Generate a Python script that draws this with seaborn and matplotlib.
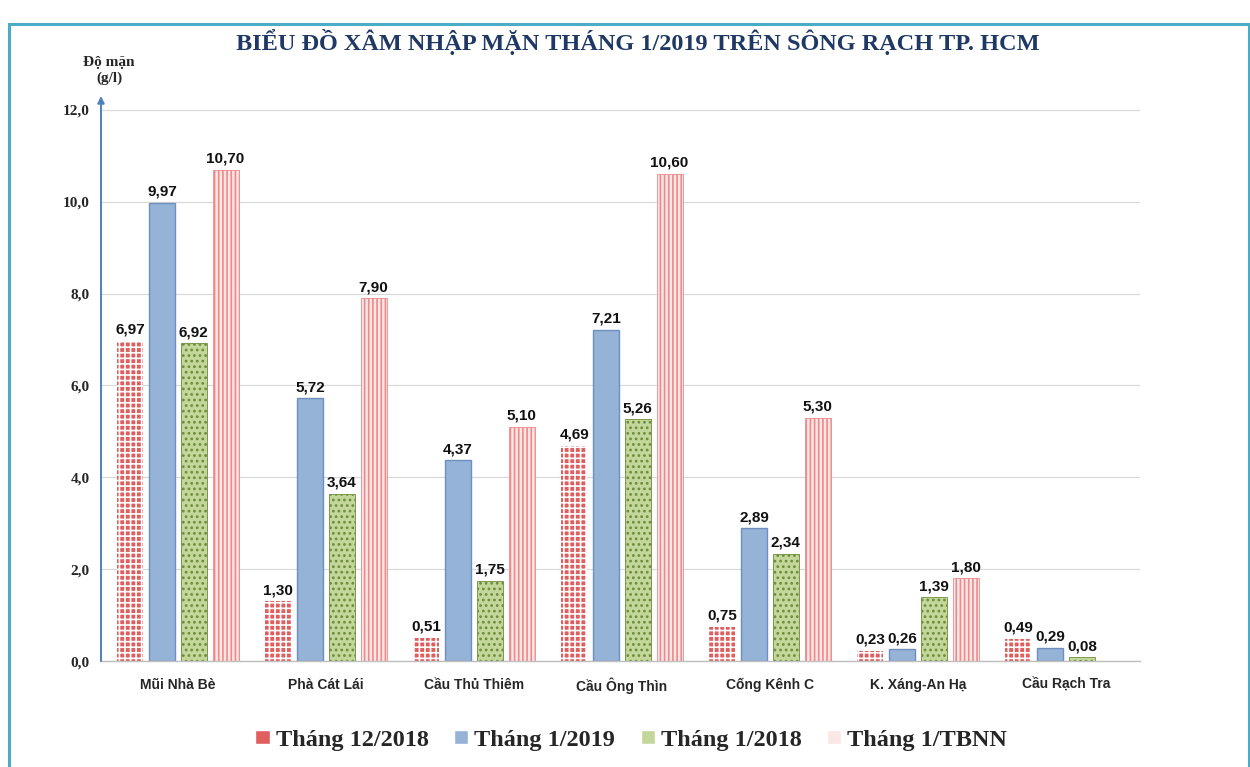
import numpy as np
import pandas as pd
import matplotlib.pyplot as plt
import seaborn as sns
from matplotlib.patches import Rectangle

# data
stations = ["Mũi Nhà Bè", "Phà Cát Lái", "Cầu Thủ Thiêm", "Cầu Ông Thìn",
            "Cống Kênh C", "K. Xáng-An Hạ", "Cầu Rạch Tra"]
series = ["Tháng 12/2018", "Tháng 1/2019", "Tháng 1/2018", "Tháng 1/TBNN"]
t12_2018 = [6.97, 1.30, 0.51, 4.69, 0.75, 0.23, 0.49]
t1_2019 = [9.97, 5.72, 4.37, 7.21, 2.89, 0.26, 0.29]
t1_2018 = [6.92, 3.64, 1.75, 5.26, 2.34, 1.39, 0.08]
t1_tbnn = [10.70, 7.90, 5.10, 10.60, 5.30, 1.80, np.nan]
yticks = [0, 2, 4, 6, 8, 10, 12]

###############################################################################
df = pd.DataFrame({"station": stations, series[0]: t12_2018, series[1]: t1_2019,
                   series[2]: t1_2018, series[3]: t1_tbnn})
long = df.melt(id_vars="station", var_name="series", value_name="salt").dropna()

sns.set_theme(style="white")
plt.rcParams['font.family'] = ['Liberation Sans', 'DejaVu Sans']
plt.rcParams['hatch.linewidth'] = 1.2

fig = plt.figure(figsize=(12.5, 7.67), dpi=100)
ax = fig.add_axes([0.0808, 0.138, 0.912 - 0.0808, 0.8748 - 0.138])

face = ['#E05E5E', '#95B3D7', '#C4D79B', '#FCE6E6']
sns.barplot(data=long, x="station", y="salt", hue="series", order=stations,
            hue_order=series, palette=face, errorbar=None, width=0.857, gap=0.18,
            saturation=1, ax=ax)

# patterns: checks, plain, dots, stripes
styles = [
    dict(edgecolor='white', hatch='+++', lw=0.0),
    dict(edgecolor='#6F8FBF', hatch=None, lw=1.0),
    dict(edgecolor='#6E8C3C', hatch='...', lw=0.6),
    dict(edgecolor='#EE8A8A', hatch='||||', lw=0.6),
]
for cont, st in zip(ax.containers, styles):
    for p in cont:
        p.set_edgecolor(st['edgecolor'])
        p.set_hatch(st['hatch'])
        p.set_linewidth(st['lw'])
    labels = [f"{v:.2f}".replace('.', ',') for v in cont.datavalues]
    ax.bar_label(cont, labels=labels, padding=3, fontsize=11, fontweight='bold',
                 color='#111111')

ax.set_xlim(-0.52, 6.5)
ax.set_ylim(0, 12.3)
ax.set_yticks(yticks)
ax.set_yticklabels([f"{v:.1f}".replace('.', ',') for v in yticks],
                   family=['Liberation Serif'], fontweight='bold', fontsize=11)
ax.tick_params(axis='y', length=0, pad=8)
ax.tick_params(axis='x', length=0, pad=12, labelsize=10)
for t in ax.get_xticklabels():
    t.set_fontweight('bold')
ax.set_xlabel("")
ax.set_ylabel("")
ax.yaxis.grid(True, color='#D9D9D9', lw=0.9)
ax.set_axisbelow(True)
for s in ['top', 'right']:
    ax.spines[s].set_visible(False)
ax.spines['left'].set_visible(False)
ax.spines['bottom'].set_color('#BFBFBF')
ax.spines['bottom'].set_linewidth(1.0)
# y axis with arrow
ax.annotate('', xy=(0, 1.0), xycoords='axes fraction', xytext=(0, 0),
            arrowprops=dict(arrowstyle='-|>', color='#4F81BD', lw=1.4,
                            mutation_scale=10, shrinkA=0, shrinkB=0))

handles, labs = ax.get_legend_handles_labels()
ax.legend_.remove()
fig.legend(handles, labs, loc='center', bbox_to_anchor=(0.505, 0.035), ncol=4,
           frameon=False, prop=dict(family='Liberation Serif', weight='bold', size=17.5),
           handlelength=0.58, handleheight=0.5, handletextpad=0.25, columnspacing=1.05)

fig.text(0.5104, 0.945, "BIỂU ĐỒ XÂM NHẬP MẶN THÁNG 1/2019 TRÊN SÔNG RẠCH TP. HCM",
         ha='center', va='center', family='Liberation Serif', fontweight='bold',
         fontsize=17.5, color='#1F3864')
fig.text(0.0872, 0.908, "Độ mặn\n(g/l)", ha='center', va='center',
         family='Liberation Serif', fontweight='bold', fontsize=11, linespacing=1.25)

# teal frame around the picture
fig.add_artist(Rectangle((0.0072, -0.02), 0.992, 1.008 - 0.0196, transform=fig.transFigure,
                         fill=False, edgecolor='#4BACC6', lw=2.2))

fig.savefig("out.png", dpi=100)
